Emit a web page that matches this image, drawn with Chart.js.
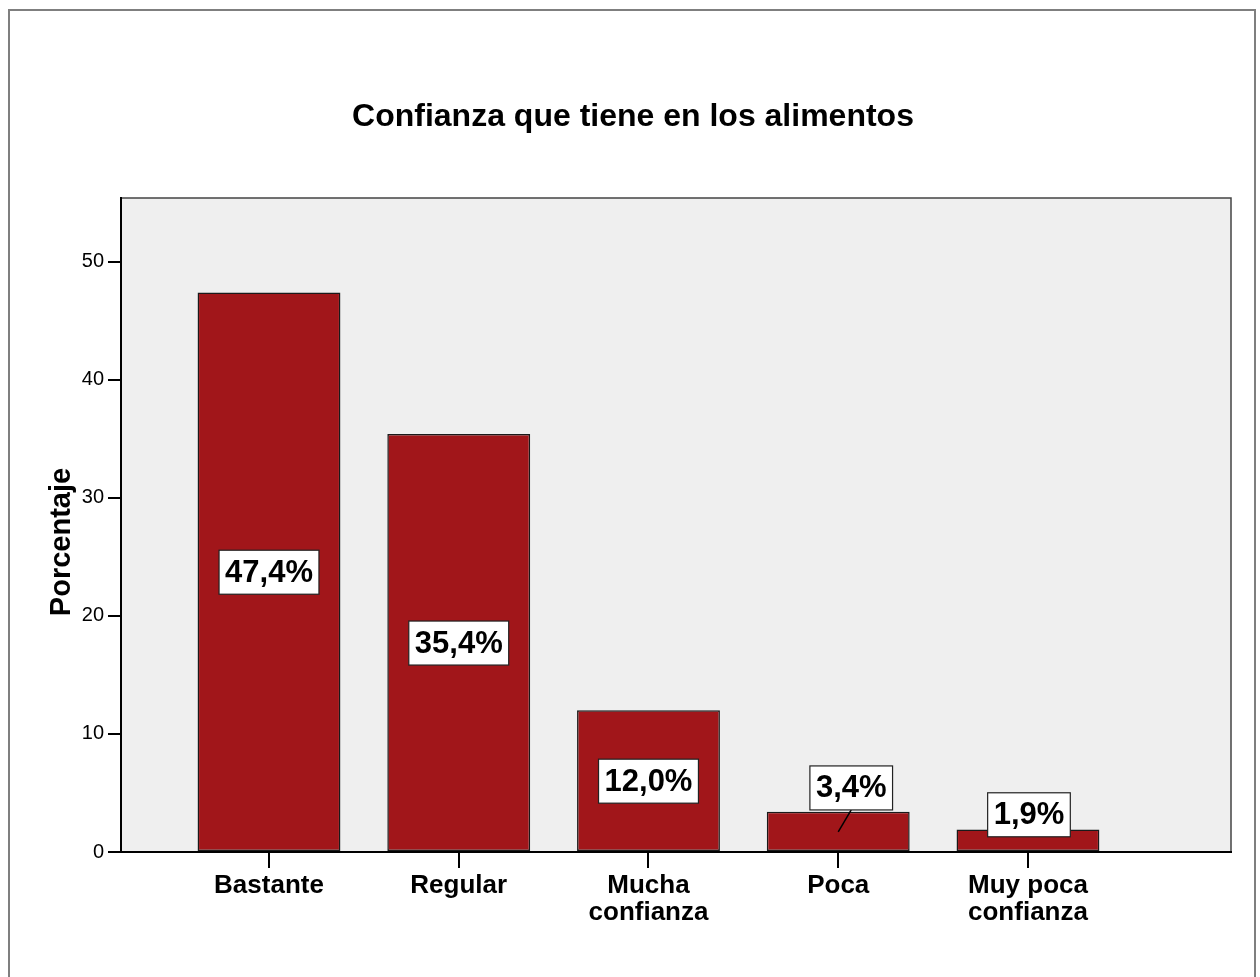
<!DOCTYPE html>
<html>
<head>
<meta charset='utf-8'>
<style>
    body { margin: 0; background: #fff; }
</style>
</head>
<body>
<canvas id='myChart' width='1260' height='977'></canvas>
<script src='https://cdn.jsdelivr.net/npm/chart.js'></script>
<script>
    let categories = ['Bastante', 'Regular', 'Mucha confianza', 'Poca', 'Muy poca confianza'];
    let percentages = [47.4, 35.4, 12.0, 3.4, 1.9];
    let xLabels = [['Bastante'], ['Regular'], ['Mucha', 'confianza'], ['Poca'], ['Muy poca', 'confianza']];
    let yTicks = [0, 10, 20, 30, 40, 50];
    let chartTitle = 'Confianza que tiene en los alimentos';
    let yTitle = 'Porcentaje';

    const family = "'Liberation Sans', Arial, sans-serif";

    // grey page frame, light plot background and the two titles
    const plotFrame = {
        id: 'plotFrame',
        beforeDraw(chart) {
            const ctx = chart.ctx;
            const a = chart.chartArea;
            ctx.save();
            ctx.strokeStyle = '#7f7f7f';
            ctx.lineWidth = 2;
            ctx.strokeRect(9, 10, 1246, chart.height + 20);
            ctx.fillStyle = '#efefef';
            ctx.fillRect(a.left, a.top, a.right - a.left, a.bottom - a.top);
            ctx.strokeStyle = '#444';
            ctx.lineWidth = 1.5;
            ctx.strokeRect(a.left, a.top, a.right - a.left, a.bottom - a.top);

            ctx.fillStyle = '#000';
            ctx.textAlign = 'center';
            ctx.textBaseline = 'middle';
            ctx.font = 'bold 32px ' + family;
            ctx.fillText(chartTitle, chart.width / 2 + 3, 117);

            ctx.translate(62, 542);
            ctx.rotate(-Math.PI / 2);
            ctx.font = 'bold 29px ' + family;
            ctx.fillText(yTitle, 0, 0);
            ctx.restore();
        }
    };

    // white boxes with the percentage of each bar
    const valueBoxes = {
        id: 'valueBoxes',
        afterDatasetsDraw(chart, args, opts) {
            const ctx = chart.ctx;
            const y = chart.scales.y;
            const bars = chart.getDatasetMeta(0).data;
            ctx.save();
            ctx.font = 'bold 31px ' + family;
            ctx.textAlign = 'center';
            ctx.textBaseline = 'middle';
            bars.forEach(function (bar, i) {
                let v = percentages[i];
                let ax = bar.x;
                let ay = y.getPixelForValue(v / 2);
                let shift = opts.shift[i] || [0, 0];
                let cx = ax + shift[0];
                let cy = ay - shift[1];
                let text = v.toFixed(1).replace('.', ',') + '%';
                let w = ctx.measureText(text).width + 12;
                let h = 44;
                if (shift[1] >= h) {
                    ctx.strokeStyle = '#000';
                    ctx.lineWidth = 1.5;
                    ctx.beginPath();
                    ctx.moveTo(ax, ay);
                    ctx.lineTo(cx, cy + h / 2);
                    ctx.stroke();
                }
                ctx.fillStyle = '#fff';
                ctx.fillRect(cx - w / 2, cy - h / 2, w, h);
                ctx.strokeStyle = '#222';
                ctx.lineWidth = 1.2;
                ctx.strokeRect(cx - w / 2, cy - h / 2, w, h);
                ctx.fillStyle = '#000';
                ctx.fillText(text, cx, cy + 1);
            });
            ctx.restore();
        }
    };

    const data = {
        datasets: [{
            data: categories.map(function (c, i) { return {x: i, y: percentages[i]}; }),
            backgroundColor: '#a1161a',
            borderColor: '#1a1a1a',
            borderWidth: 1.5,
            borderSkipped: false,
            barPercentage: 0.753,
            categoryPercentage: 1,
        }],
    };

    const config = {
        type: 'bar',
        data: data,
        options: {
            responsive: false,
            animation: false,
            devicePixelRatio: 1,
            layout: {padding: {left: 0, right: 29, top: 198, bottom: 0}},
            plugins: {
                legend: {display: false},
                tooltip: {enabled: false},
                valueBoxes: {shift: [[0, 0], [0, 0], [0, 0], [13, 44], [1, 26]]},
            },
            scales: {
                x: {
                    type: 'linear',
                    min: -0.78,
                    max: 5.07,
                    offset: false,
                    afterBuildTicks: function (axis) {
                        axis.ticks = categories.map(function (c, i) { return {value: i}; });
                    },
                    afterFit: function (axis) { axis.height = 125; },
                    ticks: {
                        callback: function (v) { return xLabels[v]; },
                        color: '#000',
                        font: {family: family, size: 26, weight: 'bold', lineHeight: 1.05},
                        padding: 4,
                        maxRotation: 0,
                        autoSkip: false,
                    },
                    grid: {drawOnChartArea: false, offset: false, tickLength: 16, color: '#000', lineWidth: 2},
                    border: {color: '#000', width: 2},
                },
                y: {
                    min: 0,
                    max: 55.4,
                    afterBuildTicks: function (axis) {
                        axis.ticks = yTicks.map(function (v) { return {value: v}; });
                    },
                    afterFit: function (axis) { axis.width = 121; },
                    ticks: {color: '#000', font: {family: family, size: 20}, padding: 4},
                    grid: {drawOnChartArea: false, tickLength: 13, color: '#000', lineWidth: 2},
                    border: {color: '#000', width: 2},
                },
            },
        },
        plugins: [plotFrame, valueBoxes],
    };

    new Chart(document.getElementById('myChart'), config);
</script>
</body>
</html>
